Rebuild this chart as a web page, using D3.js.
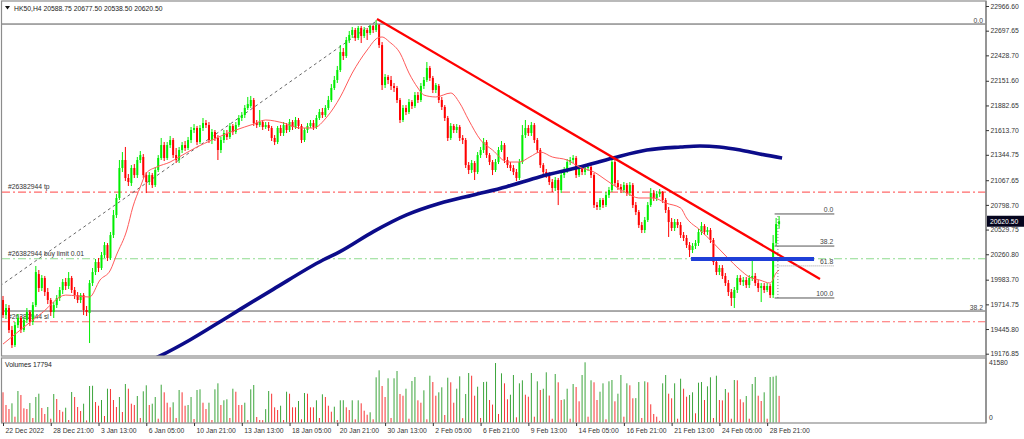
<!DOCTYPE html>
<html>
<head>
<meta charset="utf-8">
<script src="https://cdn.jsdelivr.net/npm/d3@7"></script>
<style>
  body { margin: 0; background: #fff; }
  svg { display: block; font-family: "Liberation Sans", Arial, sans-serif; }
</style>
</head>
<body>
<svg id="chart" width="1024" height="439"></svg>
<script>
// ---- data read from the HK50,H4 screenshot ----
const symbolTitle = "HK50,H4  20588.75 20677.50 20538.50 20620.50";
const lastPrice = 20620.50;
const lastVolume = 17794;

const opens = [
19762,19598,19675,19435,19271,19489,19566,19435,19544,19631,
19522,19707,20045,19893,20002,19849,19762,19631,19707,19784,
19871,19958,19915,20002,19871,19816,19762,19816,19653,19620,
19947,20067,20176,20111,20252,20361,20220,20470,20688,20874,
21201,21288,21092,21037,21201,21124,21288,21321,21124,21048,
21124,21015,21179,21310,21451,21310,21451,21506,21342,21288,
21397,21451,21419,21506,21615,21637,21484,21637,21691,21669,
21506,21593,21528,21397,21506,21582,21539,21659,21593,21669,
21746,21778,21855,21876,21942,21691,21669,21702,21648,21669,
21637,21528,21484,21637,21582,21669,21615,21702,21648,21724,
21659,21506,21615,21659,21691,21648,21746,21811,21778,21855,
21942,22073,22160,22269,22465,22422,22596,22651,22705,22618,
22727,22640,22705,22672,22749,22705,22760,22541,22105,22193,
22160,22094,22073,21942,21724,21855,21811,21920,21876,
21996,21942,22095,22160,22291,22182,22051,22095,21942,21866,
21746,21528,21659,21615,21648,21528,21506,21233,21179,21255,
21157,21342,21397,21484,21342,21266,21179,21266,21397,21451,
21288,21233,21201,21157,21092,21266,21560,21637,21582,21669,
21506,21397,21233,21157,21124,21048,20983,21070,20961,21124,
21179,21266,21288,21310,21124,21201,21157,21201,21212,21124,
20797,20776,20852,20797,20906,20961,21266,21037,20994,20961,
21015,20928,21015,20797,20721,20579,20525,20634,20797,20928,
20874,20917,20939,20852,20743,20612,20547,20612,20579,20470,
20438,20361,20307,20351,20383,20503,20569,20503,20525,20416,
20176,20067,20111,20024,19947,19849,19784,19871,20002,19958,
19980,19925,20002,20024,19947,19893,19915,19871,19915,19816,
20383,20588.75];

const highs = [
19806,19718,19707,19479,19522,19609,19588,19577,19675,19653,
19740,20133,20089,20034,20024,19893,19784,19740,19816,19904,
19991,20002,20067,20024,19904,19849,19838,19838,19697,19980,
20111,20209,20220,20285,20394,20383,20503,20743,20917,21288,
21375,21430,21135,21233,21244,21321,21386,21353,21157,21157,
21146,21212,21342,21528,21484,21484,21550,21528,21419,21430,
21484,21495,21539,21648,21680,21659,21669,21746,21724,21702,
21626,21615,21560,21539,21615,21615,21691,21680,21702,21778,
21811,21887,21975,21986,21964,21724,21833,21724,21702,21702,
21659,21560,21659,21669,21702,21691,21735,21724,21757,21746,
21680,21637,21691,21724,21724,21778,21844,21855,21887,21986,
22116,22204,22313,22541,22509,22629,22694,22738,22727,22749,
22749,22738,22727,22760,22760,22814,22770,22574,22225,22214,
22204,22127,22095,21964,21887,21887,21953,21942,22029,
22029,22127,22193,22356,22313,22204,22127,22116,21975,21887,
21768,21691,21680,21680,21669,21560,21528,21266,21288,21277,
21375,21430,21528,21506,21364,21288,21299,21430,21495,21473,
21321,21266,21233,21190,21299,21669,21724,21669,21702,21691,
21528,21419,21255,21190,21157,21081,21103,21092,21157,21212,
21299,21321,21342,21332,21233,21233,21233,21255,21244,21146,
20830,20874,20874,20939,20994,21321,21288,21070,21026,21048,
21037,21048,21037,20830,20743,20612,20667,20830,20983,20961,
20950,20972,20950,20874,20776,20656,20645,20645,20612,20503,
20470,20394,20383,20416,20536,20612,20590,20558,20547,20438,
20209,20143,20143,20056,19980,19882,19904,20034,20034,20013,
20013,20034,20198,20056,19980,19947,19947,19947,19937,20470,
20656,20677.5];

const lows = [
19566,19555,19402,19239,19250,19457,19402,19413,19511,19479,
19489,19686,19849,19860,19806,19718,19588,19566,19675,19751,
19827,19871,19882,19838,19773,19729,19729,19598,19588,19293,
19915,20034,20067,20089,20220,20187,20198,20438,20656,20852,
21157,21059,21005,21005,21092,21092,21255,21092,20928,21015,
20983,20994,21157,21288,21277,21288,21419,21310,21255,21255,
21364,21386,21397,21473,21582,21451,21462,21604,21637,21473,
21462,21495,21288,21364,21473,21506,21517,21560,21571,21648,
21713,21746,21833,21855,21659,21637,21648,21615,21626,21604,
21495,21451,21462,21550,21550,21582,21593,21615,21626,21626,
21473,21484,21582,21637,21615,21626,21724,21746,21757,21833,
21920,22051,22127,22247,22378,22400,22563,22618,22585,22596,
22563,22618,22596,22651,22672,22683,22509,22051,22073,22116,
22051,22029,21909,21691,21702,21778,21789,21844,21855,
21909,21920,22062,22138,22149,22018,22018,21909,21833,21713,
21495,21506,21582,21582,21495,21462,21201,21135,21146,21070,
21135,21310,21364,21310,21233,21124,21157,21244,21375,21255,
21201,21168,21124,21059,21070,21244,21528,21550,21550,21473,
21364,21201,21124,21092,21015,20939,20950,20797,20928,21092,
21146,21233,21255,21092,21103,21124,21124,21168,21092,20765,
20743,20743,20765,20776,20874,20939,21005,20961,20928,20928,
20896,20896,20765,20688,20547,20492,20492,20612,20776,20841,
20841,20885,20819,20710,20449,20514,20514,20547,20438,20405,
20329,20231,20274,20318,20351,20470,20470,20470,20383,20143,
20034,20034,19991,19915,19806,19697,19675,19838,19925,19915,
19893,19893,19969,19915,19849,19740,19838,19849,19784,19784,
20351,20538.5];

const closes = [
19598,19675,19435,19271,19489,19566,19435,19544,19631,19522,
19707,20067,19893,20002,19849,19762,19631,19707,19784,19871,
19958,19915,20002,19871,19816,19762,19816,19653,19631,19947,
20067,20176,20111,20252,20361,20220,20470,20688,20874,21201,
21288,21092,21048,21201,21124,21288,21342,21124,21048,21124,
21015,21179,21310,21451,21310,21451,21506,21342,21288,21397,
21451,21419,21506,21615,21637,21484,21637,21691,21669,21506,
21593,21528,21397,21506,21582,21539,21659,21593,21669,21746,
21778,21855,21898,21942,21691,21669,21702,21648,21669,21637,
21528,21484,21637,21582,21669,21615,21702,21648,21724,21659,
21506,21615,21659,21691,21648,21746,21811,21778,21855,21942,
22073,22160,22269,22465,22422,22596,22651,22705,22618,22727,
22640,22705,22672,22749,22705,22760,22541,22105,22193,22160,
22094,22073,21942,21724,21855,21811,21920,21876,21996,
21942,22095,22160,22291,22182,22051,22105,21942,21866,21746,
21528,21659,21615,21648,21528,21506,21233,21179,21255,21157,
21342,21397,21484,21342,21266,21179,21266,21397,21451,21288,
21233,21201,21157,21092,21266,21560,21637,21582,21669,21506,
21397,21233,21157,21124,21048,20983,21070,20961,21124,21179,
21266,21288,21310,21124,21201,21157,21201,21212,21124,20797,
20776,20852,20797,20906,20961,21266,21037,20994,20961,21015,
20928,21015,20797,20721,20579,20525,20634,20797,20928,20874,
20917,20939,20852,20743,20612,20547,20612,20579,20470,20438,
20361,20307,20351,20383,20503,20569,20503,20525,20416,20176,
20067,20111,20024,19947,19849,19784,19871,20002,19958,19980,
19925,20002,20024,19947,19893,19915,19871,19915,19816,20383,
20590,20620.5];

const volumes = [
20160,11740,9080,12860,3980,21020,18370,9550,9080,13060,
3100,17040,19230,9750,5770,10410,2650,19030,15710,8420,
7290,9950,1790,20350,17040,10410,7760,12600,1500,24330,
24500,13720,11270,15050,4440,22540,22340,15050,10410,17040,
7090,25660,22540,12600,11740,17700,3120,20820,24800,11740,
12600,17040,2650,25190,20160,13260,10210,13530,3120,21680,
20160,11270,11740,17040,2450,21680,22140,13260,9080,13260,
1790,22140,26120,11740,14850,15510,3120,22540,20550,11740,
11740,13260,1790,22140,25000,3780,1790,1700,9000,21020,
19230,10210,8420,11270,1790,20550,19230,10210,10210,14390,
2250,19690,19230,10210,10210,14850,3120,18830,17040,11270,
7290,10610,1800,14850,14900,10210,8420,14850,2250,14850,
12860,7960,5300,6900,2250,30100,34740,24330,17040,29440,
3120,29440,34280,19030,17900,22540,2650,27650,30300,14850,
13260,21480,2250,31160,26980,17900,20160,23470,5100,29840,
26790,13260,22540,30760,3000,19030,32950,31160,17900,23870,
3120,26980,27180,15050,12000,39580,5770,32750,26120,15510,
18560,31630,3580,26120,28110,18560,17240,32950,3980,27450,
21680,22540,33420,18000,2650,32290,26790,15050,15510,22540,
2650,25660,23670,14190,31630,40050,3980,28110,26790,15050,
20550,26120,2250,27450,28310,14190,19230,31630,3980,26120,
24800,16180,16300,26980,3120,27450,26790,12200,5770,3980,
1200,26120,31630,19230,16180,26120,2650,29170,22540,17240,
18370,20160,6230,26520,26980,15050,24130,30100,3120,31160,
15050,14800,22340,20000,2650,28310,28110,15510,13530,17700,
2650,25660,30300,17900,14390,20160,2650,30300,30500,31160,
17794];

const priceTicks = [22966.60, 22697.65, 22428.70, 22151.60, 21882.65, 21613.70, 21344.75,
  21067.65, 20798.70, 20529.75, 20260.80, 19983.70, 19714.75, 19445.80, 19176.85];
const volumeTicks = [41580, 0];

const dateIdx = [0, 16, 32, 48, 64, 80, 96, 112, 128, 144, 160, 176, 192, 208, 224, 240, 256];
const dateLabels = ["22 Dec 2022", "28 Dec 21:00", "3 Jan 13:00", "6 Jan 05:00", "10 Jan 21:00",
  "13 Jan 13:00", "18 Jan 05:00", "20 Jan 21:00", "30 Jan 13:00", "2 Feb 05:00", "6 Feb 21:00",
  "9 Feb 13:00", "14 Feb 05:00", "16 Feb 21:00", "21 Feb 13:00", "24 Feb 05:00", "28 Feb 21:00"];

// thin red moving average (bar position, price)
const maIdx = [0, 13, 21, 29, 32.5, 36, 38, 41.5, 43.5, 46, 48, 51.5, 56, 59, 65, 70, 78, 84, 88, 94,
  99.5, 104, 108.5, 113, 117, 122, 125.5, 127, 129.5, 133, 136, 139, 141, 145, 150, 153, 156, 160, 164, 169,
  173, 176.5, 180, 184, 189, 193, 198, 202, 206, 209, 213, 218, 222, 227, 229, 233.5, 238, 242.5, 247, 250,
  253.5, 257, 259, 260];
const maVal = [19282, 19620, 19816, 19795, 19980, 20089, 20252, 20525, 20776, 20994, 21146, 21212, 21266, 21321,
  21430, 21506, 21615, 21680, 21724, 21691, 21637, 21637, 21757, 21975, 22236, 22487, 22618, 22629, 22574, 22454,
  22236, 22073, 21996, 21975, 22018, 21909, 21724, 21506, 21397, 21266, 21266, 21321, 21375, 21321, 21288, 21212,
  21157, 21070, 20983, 20928, 20874, 20874, 20819, 20765, 20656, 20525, 20383, 20231, 20089, 20013, 19980, 19947,
  20056, 20089];

// thick navy long moving average
const slowIdx = [49, 52.6, 62.6, 72.7, 79.4, 90.5, 107.2, 112.9, 124.1, 135.2, 146.4, 157.6, 168.7,
  179.9, 193.3, 204.4, 215.7, 227, 233.5, 240, 247, 253.5, 261];
const slowVal = [19097, 19152, 19326, 19525, 19660, 19878, 20198, 20289, 20507, 20689, 20816, 20907,
  20997, 21106, 21212, 21310, 21397, 21430, 21441, 21430, 21397, 21354, 21310];

// objects drawn on the chart
const orderLines = [
  {label: "#26382944 tp", price: 20939, color: "#ff6a6a"},
  {label: "#26382944 buy limit 0.01", price: 20212, color: "#8fdc8f"},
  {label: "#26382944 sl", price: 19525, color: "#ff6a6a"}
];
const trendStart = {i: 125.3, p: 22825};
const trendEnd = {i: 273.7, p: 19991};
const fibDiagStart = {i: -1, p: 19915};
const fibDiagEnd = {i: 125.6, p: 22814};
const bigFibLevels = [{label: "0.0", price: 22770}, {label: "38.2", price: 19642}];
const smallFibHigh = 20700, smallFibLow = 19784;
const smallFibRatios = [0, 0.382, 0.618, 1];
const smallFibText = ["0.0", "38.2", "61.8", "100.0"];
const smallFibFrom = 258.5, smallFibTo = 278.5, smallFibDiagAt = 259.6;
const zoneFrom = 230.5, zoneTo = 271.7, zonePrice = 20209;

// ---- layout ----
const plotL = 2, plotR = 986, mainT = 1, mainB = 356, volT = 358, volB = 423;
const barStep = 2.985;
const bull = "#00ee00", bear = "#ff0000";
const frame = "#8c8c8c", ink = "#333";
const fontSize = 6.8;

const svg = d3.select("#chart");

const x = d3.scaleLinear().domain([0, 260]).range([3, 3 + 260 * barStep]);
const y = d3.scaleLinear().domain([19176.85, 22966.60]).range([353.7, 6]);
const yv = d3.scaleLinear().domain([0, 41580]).range([422.7, 360]);

const defs = svg.append("defs");
defs.append("clipPath").attr("id", "mainClip")
  .append("rect").attr("x", plotL).attr("y", mainT).attr("width", plotR - plotL).attr("height", mainB - mainT);
defs.append("clipPath").attr("id", "volClip")
  .append("rect").attr("x", plotL).attr("y", volT).attr("width", plotR - plotL).attr("height", volB - volT);

const main = svg.append("g").attr("clip-path", "url(#mainClip)");

// order lines with their labels
orderLines.forEach(o => {
  main.append("line")
    .attr("x1", plotL).attr("x2", plotR)
    .attr("y1", y(o.price)).attr("y2", y(o.price))
    .attr("stroke", o.color).attr("stroke-width", 1.2)
    .attr("stroke-dasharray", "8,3,2,3");
  main.append("text")
    .attr("x", 8).attr("y", y(o.price) - 3)
    .style("font-size", fontSize + "px").style("fill", ink)
    .text(o.label);
});

// big fibonacci levels + its dashed diagonal
bigFibLevels.forEach(l => {
  main.append("line")
    .attr("x1", plotL).attr("x2", plotR)
    .attr("y1", y(l.price)).attr("y2", y(l.price))
    .attr("stroke", "#555").attr("stroke-width", 1);
  main.append("text")
    .attr("x", 983).attr("y", y(l.price) - 1.5)
    .attr("text-anchor", "end")
    .style("font-size", fontSize + "px").style("fill", "#444")
    .text(l.label);
});
main.append("line")
  .attr("x1", x(fibDiagStart.i)).attr("y1", y(fibDiagStart.p))
  .attr("x2", x(fibDiagEnd.i)).attr("y2", y(fibDiagEnd.p))
  .attr("stroke", "#555").attr("stroke-width", 0.9)
  .attr("stroke-dasharray", "3,3");

// candles
const bars = d3.range(opens.length);
const isUp = i => closes[i] >= opens[i];

main.selectAll(".wick")
  .data(bars)
  .join("line")
  .attr("class", "wick")
  .attr("x1", i => x(i)).attr("x2", i => x(i))
  .attr("y1", i => y(highs[i])).attr("y2", i => y(lows[i]))
  .attr("stroke", i => isUp(i) ? bull : bear)
  .attr("stroke-width", 1);

main.selectAll(".body")
  .data(bars)
  .join("rect")
  .attr("class", "body")
  .attr("x", i => x(i) - 1)
  .attr("width", 2)
  .attr("y", i => y(Math.max(opens[i], closes[i])))
  .attr("height", i => Math.max(1, Math.abs(y(opens[i]) - y(closes[i]))))
  .attr("fill", i => isUp(i) ? bull : bear);

// moving averages
const lineGen = d3.line().curve(d3.curveMonotoneX);
main.append("path")
  .attr("d", lineGen(slowIdx.map((d, k) => [x(d), y(slowVal[k])])))
  .attr("fill", "none").attr("stroke", "#0c0c8a").attr("stroke-width", 3.6);
main.append("path")
  .attr("d", lineGen(maIdx.map((d, k) => [x(d), y(maVal[k])])))
  .attr("fill", "none").attr("stroke", "#ff5a5a").attr("stroke-width", 1);

// red trendline
main.append("line")
  .attr("x1", x(trendStart.i)).attr("y1", y(trendStart.p))
  .attr("x2", x(trendEnd.i)).attr("y2", y(trendEnd.p))
  .attr("stroke", "#ff0000").attr("stroke-width", 2.2);

// blue zone
main.append("line")
  .attr("x1", x(zoneFrom)).attr("x2", x(zoneTo))
  .attr("y1", y(zonePrice)).attr("y2", y(zonePrice))
  .attr("stroke", "#1f3fd8").attr("stroke-width", 4);

// small fibonacci on the last swing
const fibRange = smallFibHigh - smallFibLow;
smallFibRatios.forEach((r, k) => {
  const p = smallFibHigh - r * fibRange;
  main.append("line")
    .attr("x1", x(smallFibFrom)).attr("x2", x(smallFibTo))
    .attr("y1", y(p)).attr("y2", y(p))
    .attr("stroke", k === 2 ? "#999" : "#555").attr("stroke-width", 1)
    .attr("stroke-dasharray", k === 2 ? "1,1" : null);
  main.append("text")
    .attr("x", x(smallFibTo) - 1).attr("y", y(p) - 2)
    .attr("text-anchor", "end")
    .style("font-size", fontSize + "px").style("fill", "#444")
    .text(smallFibText[k]);
});
main.append("line")
  .attr("x1", x(smallFibDiagAt)).attr("x2", x(smallFibDiagAt))
  .attr("y1", y(smallFibLow)).attr("y2", y(smallFibHigh))
  .attr("stroke", "#666").attr("stroke-width", 0.8)
  .attr("stroke-dasharray", "1,2");

// header
svg.append("path").attr("d", "M5,6 L10,6 L7.5,9.5 Z").attr("fill", "#111");
svg.append("text")
  .attr("x", 14).attr("y", 10.5)
  .style("font-size", fontSize + "px").style("fill", "#222")
  .text(symbolTitle);

// volumes
const vol = svg.append("g").attr("clip-path", "url(#volClip)");
vol.selectAll(".vbar")
  .data(bars)
  .join("line")
  .attr("class", "vbar")
  .attr("x1", i => x(i)).attr("x2", i => x(i))
  .attr("y1", yv(0)).attr("y2", i => yv(volumes[i]))
  .attr("stroke", i => (i > 0 && volumes[i] > volumes[i - 1]) ? "#3ca53c" : "#f73434")
  .attr("stroke-width", 1);

svg.append("text")
  .attr("x", 5).attr("y", 367)
  .style("font-size", fontSize + "px").style("fill", "#222")
  .text("Volumes " + lastVolume);

// frames
const frames = svg.append("g").attr("fill", "none").attr("stroke", frame);
frames.append("rect").attr("x", 1.5).attr("y", 1).attr("width", plotR - 1.5).attr("height", mainB - 1).attr("stroke-width", 1.2);
frames.append("rect").attr("x", 1.5).attr("y", volT).attr("width", plotR - 1.5).attr("height", volB - volT).attr("stroke-width", 1.2);
frames.append("line").attr("x1", plotR).attr("x2", plotR).attr("y1", 1).attr("y2", volB).attr("stroke-width", 1.6);

// price axis
const priceAxis = svg.append("g")
  .attr("transform", "translate(" + plotR + ",0)")
  .call(d3.axisRight(y).tickValues(priceTicks).tickFormat(d => d.toFixed(2)).tickSize(3).tickPadding(1.5));
priceAxis.select(".domain").remove();
priceAxis.selectAll("line").attr("stroke", ink);
priceAxis.selectAll("text").style("font-size", fontSize + "px").style("fill", ink).attr("font-family", null);

// current price tag
svg.append("rect")
  .attr("x", plotR + 1).attr("y", y(lastPrice) - 5.5)
  .attr("width", 37).attr("height", 11)
  .attr("fill", "#05051e");
svg.append("text")
  .attr("x", plotR + 4).attr("y", y(lastPrice) + 2.5)
  .style("font-size", fontSize + "px").style("fill", "#fff")
  .text(lastPrice.toFixed(2));

// volume scale labels
svg.selectAll(".vtick")
  .data(volumeTicks)
  .join("text")
  .attr("class", "vtick")
  .attr("x", plotR + 3)
  .attr("y", d => d === 0 ? yv(d) - 2.5 : yv(d) + 4.5)
  .style("font-size", fontSize + "px").style("fill", ink)
  .text(d => d);

// time axis
const timeAxis = svg.append("g")
  .attr("transform", "translate(0," + volB + ")")
  .call(d3.axisBottom(x).tickValues(dateIdx).tickFormat((d, k) => dateLabels[k]).tickSize(3));
timeAxis.select(".domain").remove();
timeAxis.selectAll("line").attr("stroke", ink);
timeAxis.selectAll("text")
  .attr("text-anchor", "start").attr("x", 2).attr("y", 5.5)
  .attr("font-family", null)
  .style("font-size", fontSize + "px").style("fill", ink);
</script>
</body>
</html>
